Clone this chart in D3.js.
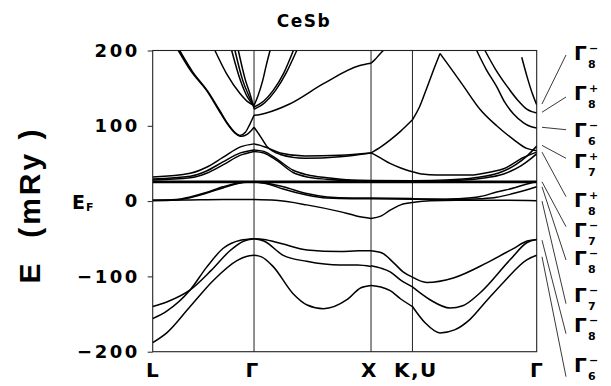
<!DOCTYPE html>
<html>
<head>
<meta charset="utf-8">
<script src="https://cdn.jsdelivr.net/npm/d3@7"></script>
<style>
  body { margin: 0; background: #fff; }
  svg { display: block; }
  text { font-family: 'DejaVu Sans', 'Liberation Sans', Arial, sans-serif; font-weight: bold; fill: #000; }
</style>
</head>
<body>
<div id="chart"></div>
<script>
// k-path and labels
const kPoints = [0, 0.866, 1.866, 2.220, 3.282];
const kLabels = ['L', 'Γ', 'X', 'K,U', 'Γ'];
const yTicks = [-200, -100, 0, 100, 200];
// flat 4f band (mRy)
const fBand = [26.2, 24.9];

// L - Γ
const bandsLG = [
  [[0,-188],[0.12,-175],[0.32,-140],[0.52,-105],[0.72,-79],[0.80,-73.5],[0.866,-72]],
  [[0,-156],[0.12,-146],[0.32,-118],[0.46,-88],[0.6,-63],[0.75,-52],[0.866,-50]],
  [[0,-140],[0.12,-134],[0.32,-118],[0.5,-92],[0.66,-66],[0.78,-53],[0.866,-50]],
  [[0,1],[0.3,1.5],[0.6,2],[0.866,2]],
  [[0,1],[0.2,2],[0.32,5.5],[0.45,11],[0.6,19],[0.75,24.5],[0.866,25.6]],
  [[0,0.5],[0.2,1.5],[0.32,4.5],[0.45,10],[0.6,17.5],[0.75,24],[0.866,25.6]],
  [[0,32],[0.32,37],[0.46,45],[0.6,58],[0.75,72],[0.866,76]],
  [[0,29.5],[0.32,33],[0.46,40],[0.6,52],[0.75,64],[0.866,68]],
  [[0,28],[0.32,31],[0.46,37],[0.6,48],[0.75,61],[0.866,66]],
  [[0.219,200],[0.33,172],[0.46,147],[0.56,122],[0.632,104],[0.70,91],[0.745,87],[0.79,91],[0.83,102],[0.866,114]],
  [[0.23,200],[0.34,172],[0.47,146],[0.57,121],[0.64,103],[0.71,90],[0.76,86],[0.81,89],[0.845,94],[0.866,98]],
  [[0.532,200],[0.632,169],[0.746,143],[0.82,131],[0.866,127]],
  [[0.675,200],[0.75,160],[0.81,138],[0.866,127]],
  [[0.703,200],[0.77,160],[0.83,137],[0.866,125]],
  [[0.732,200],[0.79,162],[0.84,138],[0.866,123]]
];

// Γ - X
const bandsGX = [
  [[0.866,-50],[0.95,-51],[1.09,-56],[1.32,-65],[1.6,-67],[1.76,-66],[1.866,-66]],
  [[0.866,-50],[0.95,-53],[1.116,-72],[1.316,-80],[1.6,-85],[1.75,-85],[1.866,-87]],
  [[0.866,-72],[0.93,-74],[1.03,-87],[1.2,-123],[1.32,-138],[1.46,-143],[1.66,-131],[1.78,-115],[1.866,-112]],
  [[0.866,2],[1.05,1],[1.316,-5],[1.6,-14],[1.75,-20],[1.866,-23]],
  [[0.866,25.6],[1.0,23],[1.116,19],[1.316,10],[1.49,5.5],[1.7,4],[1.866,4]],
  [[0.866,25.6],[1.0,22],[1.116,16],[1.316,8],[1.49,4],[1.7,3],[1.866,3]],
  [[0.866,98],[0.92,86],[0.974,73],[1.09,62],[1.3,57],[1.6,59],[1.866,64]],
  [[0.866,76],[0.92,74],[0.974,71],[1.09,64],[1.3,60],[1.6,61],[1.866,64]],
  [[0.866,68],[0.95,66],[1.06,56],[1.2,41],[1.32,35],[1.49,31],[1.7,28],[1.866,27.5]],
  [[0.866,66],[0.95,64],[1.06,54],[1.2,38],[1.32,32],[1.49,29],[1.7,27],[1.866,26.5]],
  [[0.866,114],[0.92,115],[0.97,117],[1.17,129],[1.46,156],[1.77,180],[1.866,183]],
  [[0.866,127],[0.9,140],[0.94,160],[0.97,180],[1.003,200]],
  [[0.866,125],[0.95,133],[1.03,147],[1.12,170],[1.202,200]],
  [[0.866,122],[0.96,131],[1.05,147],[1.14,170],[1.231,200]]
];

// X - K,U
const bandsXK = [
  [[1.866,-66],[1.96,-69],[2.06,-82],[2.14,-94],[2.22,-101]],
  [[1.866,-86],[1.95,-89],[2.03,-94],[2.12,-105],[2.22,-114]],
  [[1.866,-112],[1.95,-114],[2.03,-119],[2.12,-130],[2.22,-140]],
  [[1.866,-23],[1.95,-20],[2.03,-12],[2.12,-5],[2.22,-2]],
  [[1.866,4],[2.22,3.5]],
  [[1.866,3],[2.22,2.5]],
  [[1.866,64],[1.95,72],[2.028,81],[2.12,93],[2.22,108]],
  [[1.866,64],[1.95,57],[2.028,50],[2.12,44],[2.22,39]],
  [[1.866,27.5],[2.22,27]],
  [[1.866,26.5],[2.22,26]],
  [[1.866,183],[1.9,188],[1.94,195],[1.971,200]]
];

// K,U - Γ
const bandsKG = [
  [[2.22,-101],[2.342,-108],[2.57,-102],[2.855,-82],[3.082,-63],[3.2,-53],[3.282,-51]],
  [[2.22,-114],[2.37,-131],[2.541,-142],[2.65,-139],[2.797,-122],[3.054,-78],[3.2,-55],[3.282,-51]],
  [[2.22,-140],[2.33,-162],[2.456,-175],[2.58,-171],[2.712,-157],[2.85,-133],[2.997,-108],[3.197,-78],[3.282,-72]],
  [[2.22,-2],[2.37,0.5],[2.6,1],[3.0,1],[3.282,0.5]],
  [[2.22,3],[2.5,2.5],[2.6,3],[2.8,6],[2.94,12],[3.1,18],[3.17,21.5],[3.282,25.6]],
  [[2.22,2.5],[2.6,2],[2.8,3],[2.94,5],[3.08,10],[3.2,15],[3.282,19]],
  [[2.22,39],[2.3,36],[2.43,34.5],[2.71,34.5],[2.9,39],[3.0,43],[3.17,58],[3.282,65]],
  [[2.22,27],[2.5,28],[2.75,31],[2.95,37],[3.1,48],[3.2,60],[3.282,73]],
  [[2.22,26],[2.55,27],[2.8,30],[3.0,36],[3.15,47],[3.23,56],[3.282,63]],
  [[2.22,108],[2.28,125],[2.342,150],[2.40,174],[2.456,196]],
  [[2.456,196],[2.55,176],[2.655,153],[2.797,122],[2.94,100],[3.082,82],[3.197,70],[3.282,67]],
  [[2.769,200],[2.85,175],[2.94,152],[3.01,131],[3.082,116],[3.17,104],[3.23,99],[3.282,97]],
  [[2.84,200],[2.93,175],[3.026,153],[3.12,134],[3.197,122],[3.282,117]],
  [[3.154,191],[3.2,165],[3.24,145],[3.282,128]]
];

// symmetry labels at the right-hand Γ
const gammaSub = ['8','8','6','7','8','7','8','7','8','6'];
const gammaSup = ['−','+','−','+','+','−','−','−','−','−'];
const gammaE = [129, 118, 98, 74, 65, 25.6, 19, 0, -52, -74];

const width = 611, height = 386;
const labelTop = [45, 85, 121.7, 153.3, 191.7, 221.7, 250, 286.7, 316.7, 356.7];
const pointerDy = [10, 12, 8, 5, 5, 5, 10, 17, 17, 20];

const svg = d3.select('#chart').append('svg')
  .attr('width', width)
  .attr('height', height);

const x = d3.scaleLinear().domain([0, 3.282]).range([152.7, 536.7]);
const y = d3.scaleLinear().domain([-200, 200]).range([351.7, 50.5]);

svg.append('clipPath').attr('id', 'plot')
  .append('rect')
  .attr('x', x(0)).attr('y', y(200))
  .attr('width', x(3.282) - x(0)).attr('height', y(-200) - y(200));

// symmetry lines
svg.append('g').selectAll('line')
  .data(kPoints.slice(1, 4))
  .join('line')
  .attr('x1', d => x(d)).attr('x2', d => x(d))
  .attr('y1', y(200)).attr('y2', y(-200))
  .attr('stroke', '#222')
  .attr('stroke-width', 1);

// frame
svg.append('rect')
  .attr('x', x(0)).attr('y', y(200))
  .attr('width', x(3.282) - x(0)).attr('height', y(-200) - y(200))
  .attr('fill', 'none')
  .attr('stroke', '#222')
  .attr('stroke-width', 1.1);

const line = d3.line()
  .x(d => x(d[0]))
  .y(d => y(d[1]))
  .curve(d3.curveMonotoneX);

const bands = svg.append('g').attr('clip-path', 'url(#plot)');
bands.selectAll('path.band')
  .data([].concat(bandsLG, bandsGX, bandsXK, bandsKG))
  .join('path')
  .classed('band', true)
  .attr('d', line)
  .attr('fill', 'none')
  .attr('stroke', '#000')
  .attr('stroke-width', 1.5);

bands.selectAll('line.fband')
  .data(fBand)
  .join('line')
  .classed('fband', true)
  .attr('x1', x(0)).attr('x2', x(3.282))
  .attr('y1', d => y(d)).attr('y2', d => y(d))
  .attr('stroke', '#000')
  .attr('stroke-width', 1.6);

// y axis
const yAxis = svg.append('g')
  .attr('transform', `translate(${x(0)},0)`)
  .call(d3.axisLeft(y).tickValues(yTicks).tickSize(5).tickPadding(8).tickFormat(d3.format('d')));
yAxis.select('.domain').remove();
yAxis.selectAll('line').attr('stroke', '#222');
yAxis.selectAll('text')
  .attr('font-size', 18)
  .attr('letter-spacing', 2.5)
  .attr('fill', '#000');

// x labels
const xAxis = svg.append('g')
  .attr('transform', `translate(0,${y(-200)})`)
  .call(d3.axisBottom(x).tickValues(kPoints).tickSize(0).tickPadding(11).tickFormat((d, i) => kLabels[i]));
xAxis.select('.domain').remove();
xAxis.selectAll('text')
  .attr('font-size', 20)
  .attr('letter-spacing', 1.5)
  .attr('fill', '#000')
  .attr('dx', (d, i) => [0, -2, -2, 3, 0][i]);

// E_F
const ef = svg.append('text')
  .attr('x', 72)
  .attr('y', y(0) + 8)
  .attr('font-size', 19);
ef.append('tspan').text('E');
ef.append('tspan').attr('font-size', 11).attr('dx', 1).attr('dy', 2).text('F');

// axis title
svg.append('text')
  .attr('transform', `translate(40,205) rotate(-90)`)
  .attr('text-anchor', 'middle')
  .style('font-family', "'Liberation Sans', Arial, sans-serif")
  .attr('font-size', 30)
  .attr('letter-spacing', 3)
  .style('white-space', 'pre')
  .text('E  (mRy )');

// title
svg.append('text')
  .attr('x', 304)
  .attr('y', 27)
  .attr('text-anchor', 'middle')
  .attr('font-size', 17)
  .attr('letter-spacing', 1.5)
  .text('CeSb');

// right-hand Γ labels and pointers
const glab = svg.append('g');
glab.selectAll('line')
  .data(gammaE)
  .join('line')
  .attr('x1', 542).attr('y1', d => y(d))
  .attr('x2', 566).attr('y2', (d, i) => labelTop[i] + pointerDy[i])
  .attr('stroke', '#222')
  .attr('stroke-width', 0.9);
const gt = glab.selectAll('g.gl')
  .data(gammaSub)
  .join('g')
  .classed('gl', true)
  .attr('transform', (d, i) => `translate(574,${labelTop[i] + 15})`);
gt.append('text').attr('font-size', 20).text('Γ');
gt.append('text').attr('x', 14).attr('y', 8).attr('font-size', 11).text(d => d);
gt.append('text').attr('x', 15).attr('y', -8).attr('font-size', 11).text((d, i) => gammaSup[i]);
</script>
</body>
</html>
